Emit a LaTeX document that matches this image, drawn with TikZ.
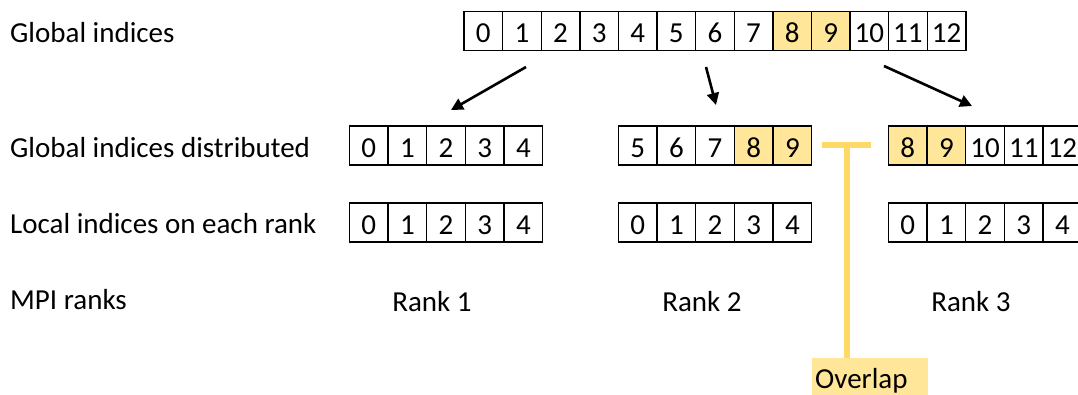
\documentclass[tikz,border=0pt]{standalone}
\usepackage{fontspec}
\setmainfont{Carlito}
\usetikzlibrary{arrows.meta}
\definecolor{hl}{HTML}{FFE699}
\definecolor{ovline}{HTML}{FFD966}
\tikzset{
  cell/.style={draw=black, line width=1.4pt, minimum width=38.6pt, minimum height=39pt,
    inner sep=0pt, text height=24pt, text depth=0pt, font=\fontsize{29}{34}\selectfont},
  hcell/.style={cell, fill=hl},
  lbl/.style={anchor=west, inner sep=0pt, text height=18.5pt, text depth=0pt, font=\fontsize{29}{34}\selectfont},
  rlbl/.style={inner sep=0pt, text height=18.5pt, text depth=0pt, font=\fontsize{29}{34}\selectfont},
  arr/.style={line width=2.6pt, -{Triangle[length=12pt,width=12pt]}},
  ovl/.style={draw=ovline, line width=6pt}
}
\begin{document}
\begin{tikzpicture}[x=1pt,y=-1pt]
\useasboundingbox (0,0) rectangle (1078,395);
\clip (0,0) rectangle (1078,395);
% row labels
\node[lbl] (L1) at (10,33) {Global indices};
\node[lbl] (L2) at (10,148) {Global indices distributed};
\node[lbl] (L3) at (10,224) {Local indices on each rank};
\node[lbl] (L4) at (10,300) {MPI ranks};
% top array
\foreach \i in {0,...,12}{
  \pgfmathsetmacro{\cx}{464+19.3+38.6*\i}
  \ifnum\i=8 \node[hcell] (t\i) at (\cx,31) {\i};
  \else\ifnum\i=9 \node[hcell] (t\i) at (\cx,31) {\i};
  \else \node[cell] (t\i) at (\cx,31) {\i};\fi\fi
}
% rank 1
\foreach \i in {0,...,4}{
  \pgfmathsetmacro{\cx}{349.3+19.35+38.7*\i}
  \node[cell] (a\i) at (\cx,145.5) {\i};
  \node[cell] (la\i) at (\cx,222.5) {\i};
}
% rank 2
\foreach \i/\g in {0/5,1/6,2/7}{
  \pgfmathsetmacro{\cx}{618.3+19.35+38.7*\i}
  \node[cell] (b\i) at (\cx,145.5) {\g};
}
\foreach \i/\g in {3/8,4/9}{
  \pgfmathsetmacro{\cx}{618.3+19.35+38.7*\i}
  \node[hcell] (b\i) at (\cx,145.5) {\g};
}
\foreach \i in {0,...,4}{
  \pgfmathsetmacro{\cx}{618.3+19.35+38.7*\i}
  \node[cell] (lb\i) at (\cx,222.5) {\i};
}
% rank 3
\foreach \i/\g in {0/8,1/9}{
  \pgfmathsetmacro{\cx}{888.3+19.35+38.7*\i}
  \node[hcell] (c\i) at (\cx,145.5) {\g};
}
\foreach \i/\g in {2/10,3/11,4/12}{
  \pgfmathsetmacro{\cx}{888.3+19.35+38.7*\i}
  \node[cell] (c\i) at (\cx,145.5) {\g};
}
\foreach \i in {0,...,4}{
  \pgfmathsetmacro{\cx}{888.3+19.35+38.7*\i}
  \node[cell] (lc\i) at (\cx,222.5) {\i};
}
% rank labels
\node[rlbl] (R1) at (432,302) {Rank 1};
\node[rlbl] (R2) at (702,302) {Rank 2};
\node[rlbl] (R3) at (971,302) {Rank 3};
% arrows
\coordinate (s1) at (526,67);
\coordinate (e1) at (451,110);
\coordinate (s2) at (706,67);
\coordinate (e2) at (716,105);
\coordinate (s3) at (884,66);
\coordinate (e3) at (972,106);
\draw[arr] (s1) -- (e1);
\draw[arr] (s2) -- (e2);
\draw[arr] (s3) -- (e3);
% overlap marker
\node[fill=hl, anchor=north west, minimum width=116pt, minimum height=40pt, inner sep=0pt,
  text height=20pt, text depth=0pt, font=\fontsize{29}{34}\selectfont, align=left,
  text width=110pt] (ovbox) at (812,358) {Overlap};
\coordinate (ovL) at (822,145);
\coordinate (ovR) at (871,145);
\coordinate (ovM) at (847,145);
\draw[ovl] (ovL) -- (ovR);
\draw[ovl] (ovM) -- (ovM |- ovbox.north);
\end{tikzpicture}
\end{document}
